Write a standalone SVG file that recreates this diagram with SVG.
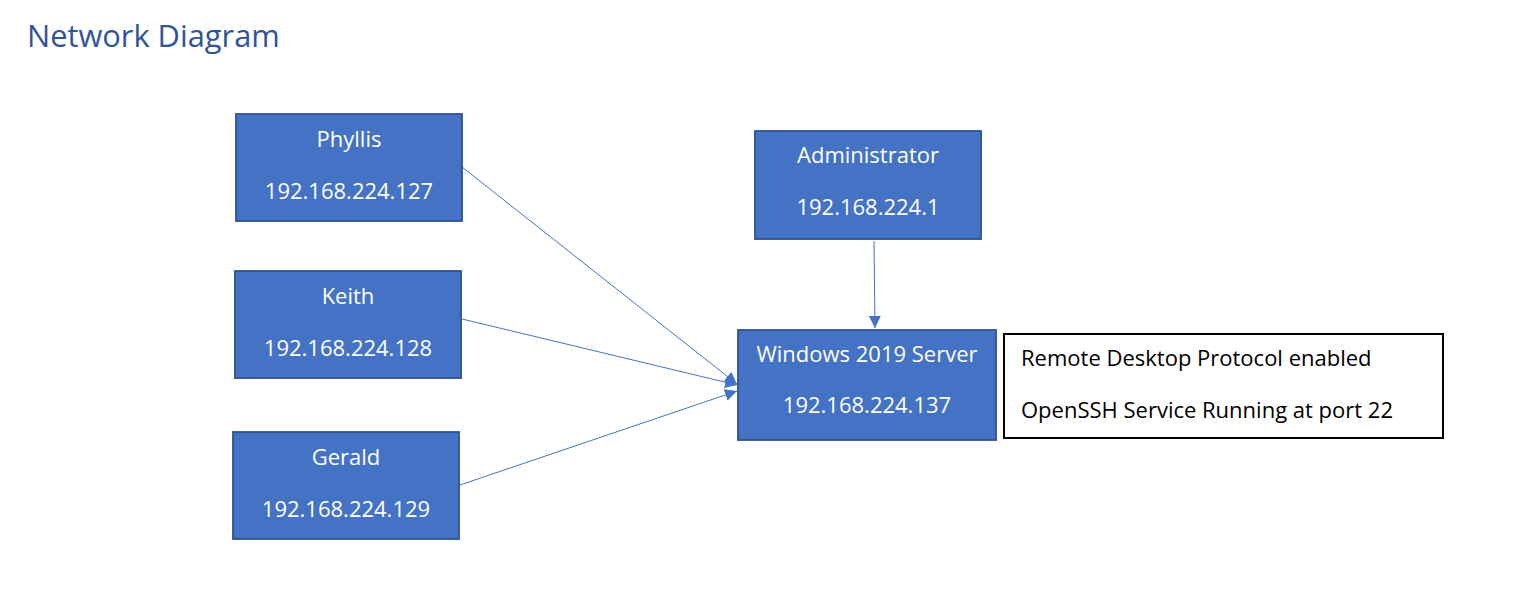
<svg xmlns="http://www.w3.org/2000/svg" width="1515" height="607" viewBox="0 0 1515 607">
<style>
.node rect{fill:#4472C4;stroke:#2F528F;stroke-width:1.8}
.node text{fill:#FFFFFF;font-family:"Open Sans","Noto Sans",sans-serif;font-size:22px;text-anchor:middle}
.conn line{stroke:#4472C4;stroke-width:1}
.note rect{fill:#FFFFFF;stroke:#000000;stroke-width:2}
.note text{fill:#000000;font-family:"Open Sans","Noto Sans",sans-serif;font-size:22px}
.title{fill:#2F5597;font-family:"Open Sans","Noto Sans",sans-serif;font-size:30.8px}
</style>
<defs>
<marker id="arr" markerUnits="userSpaceOnUse" markerWidth="12" markerHeight="12" viewBox="0 0 10 10" refX="10" refY="5" orient="auto">
<path d="M0,0 L10,5 L0,10 z" fill="#4472C4"/>
</marker>
</defs>
<rect width="1515" height="607" fill="#FFFFFF"/>
<text class="title" x="27" y="47">Network Diagram</text>
<g id="connectors" class="conn">
<line x1="462" y1="167" x2="737" y2="384" marker-end="url(#arr)"/>
<line x1="462" y1="319" x2="737" y2="385" marker-end="url(#arr)"/>
<line x1="460" y1="485" x2="737" y2="391" marker-end="url(#arr)"/>
<line x1="874" y1="241" x2="875" y2="328" marker-end="url(#arr)"/>
</g>
<g id="phyllis" class="node">
<rect x="236" y="114" width="226" height="107"/>
<text x="349" y="147">Phyllis</text>
<text x="349" y="199">192.168.224.127</text>
</g>
<g id="keith" class="node">
<rect x="235" y="271" width="226" height="107"/>
<text x="348" y="304">Keith</text>
<text x="348" y="356">192.168.224.128</text>
</g>
<g id="gerald" class="node">
<rect x="233" y="432" width="226" height="107"/>
<text x="346" y="465">Gerald</text>
<text x="346" y="517">192.168.224.129</text>
</g>
<g id="administrator" class="node">
<rect x="755" y="131" width="226" height="108"/>
<text x="868" y="163">Administrator</text>
<text x="868" y="215">192.168.224.1</text>
</g>
<g id="server" class="node">
<rect x="738" y="330" width="258" height="110"/>
<text x="867" y="362">Windows 2019 Server</text>
<text x="867" y="413">192.168.224.137</text>
</g>
<g id="note" class="note">
<rect x="1004" y="334" width="439" height="104"/>
<text x="1021" y="366">Remote Desktop Protocol enabled</text>
<text x="1021" y="418">OpenSSH Service Running at port 22</text>
</g>
</svg>
